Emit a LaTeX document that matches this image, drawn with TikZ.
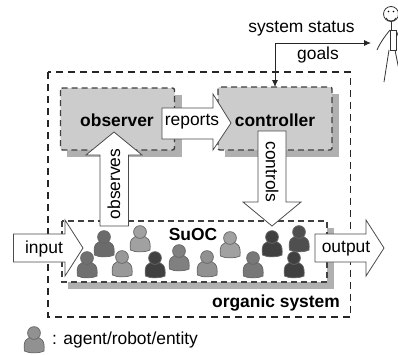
\documentclass[tikz,border=0pt]{standalone}
\usepackage{fontspec}
\setmainfont{Liberation Sans}
\usetikzlibrary{arrows.meta}
\definecolor{boxfill}{gray}{0.80}
\definecolor{shadowc}{gray}{0.69}
\definecolor{linec}{gray}{0.25}
\tikzset{
  x=1pt,y=-1pt,
  lab/.style={font=\fontsize{17.4}{20}\selectfont,inner sep=0pt,text=black},
  blab/.style={lab,font=\fontsize{17.4}{20}\selectfont\bfseries},
  dashbox/.style={draw=linec,line width=1.4pt,dash pattern=on 6pt off 4pt},
  outerbox/.style={draw=black!85,line width=1.5pt,dash pattern=on 7pt off 5pt},
  shadowbox/.style={fill=shadowc,draw=none},
  bigarrow/.style={draw=black!70,fill=white,line width=0.8pt,line join=miter},
  conn/.style={draw=black!85,line width=0.9pt,-{Latex[length=7pt,width=6pt]}},
  stick/.style={draw=black!80,line width=0.8pt},
  agentbody/.style={draw=black!60,line width=0.7pt},
}
\newcommand{\agent}[4]{% name, head x, head y, gray level
  \definecolor{agc}{gray}{#4}
  \begin{scope}[shift={(#2,#3)}]
    \path[agentbody,fill=agc] (-9.5,18) .. controls (-11,8) and (-8,4) .. (0,4)
      .. controls (8,4) and (11,8) .. (10,18) .. controls (5,20.5) and (-5,20.5) .. (-9.5,18) -- cycle;
    \path[agentbody,fill=agc] (0,0) circle (6.4);
    \coordinate (#1) at (0,0);
  \end{scope}}
\begin{document}
\begin{tikzpicture}
\useasboundingbox (0,0) rectangle (398,354);
\fill[white] (0,0) rectangle (398,354);
% outer
\path[outerbox] (48,72) rectangle (350.5,317);
% shadows
\path[shadowbox] (67,95) rectangle (182,157);
\path[shadowbox] (225,94) rectangle (339,157);
\path[shadowbox] (68,228) rectangle (334,289);
% boxes
\path[dashbox,fill=boxfill,rounded corners=2pt] (60.5,88) rectangle (174.5,150);
\path[dashbox,fill=boxfill,rounded corners=2pt] (218,87) rectangle (332,150);
\path[dashbox,fill=white] (62,221) rectangle (327,282);
\node[blab] (obs) at (117,120) {observer};
\node[blab] (ctl) at (275,120) {controller};
\node[blab] (suoc) at (193,235) {SuOC};
\node[blab] (org) at (276,303) {organic system};
% agents
\agent{a1}{104}{237}{0.42}
\agent{a2}{87}{258}{0.44}
\agent{a3}{140}{232}{0.63}
\agent{a4}{122}{257}{0.60}
\agent{a5}{155}{258}{0.25}
\agent{a6}{179}{251}{0.50}
\agent{a7}{230}{238}{0.63}
\agent{a8}{207}{257}{0.57}
\agent{a9}{253}{258}{0.47}
\agent{a10}{272}{237}{0.25}
\agent{a11}{299}{232}{0.31}
\agent{a12}{294}{258}{0.25}
\agent{leg}{34}{333}{0.57}
% big arrows
\path[bigarrow] (13.5,234) -- (65,234) -- (65,220) -- (83,248) -- (65,276) -- (65,262) -- (13.5,262) -- cycle;
\path[bigarrow] (315,234) -- (366,234) -- (366,220) -- (384,248) -- (366,276) -- (366,262) -- (315,262) -- cycle;
\path[bigarrow] (100,226) -- (100,155) -- (86,155) -- (114,132) -- (142,155) -- (128.5,155) -- (128.5,226) -- cycle;
\path[bigarrow] (162,108) -- (213,108) -- (213,94) -- (231,123) -- (213,150) -- (213,139) -- (162,139) -- cycle;
\path[bigarrow] (258,131) -- (286,131) -- (286,202) -- (301,202) -- (272,226) -- (243,202) -- (258,202) -- cycle;
\node[lab] (inp) at (44,249) {input};
\node[lab] (outp) at (346,249) {output};
\node[lab] (rep) at (192,122) {reports};
\node[lab,rotate=90] (obsv) at (114,184) {observes};
\node[lab,rotate=-90] (ctrls) at (272,172) {controls};
% status
\node[lab] (status) at (301.5,29) {system status};
\node[lab] (goals) at (318,55) {goals};
\coordinate (human) at (371,43);
\coordinate (corner) at (275,43);
\draw[conn] (corner) -- (human);
\draw[conn] (corner) -- (275,87);
% stick figure
\draw[stick] (391,14) circle (7.5);
\draw[stick] (386,18) .. controls (388,22) and (394,22) .. (396,18);
\fill (388.5,11.5) circle (0.8) (393.5,11.5) circle (0.8);
\draw[stick] (391,21.5) -- (391,30);
\draw[stick] (390,30) rectangle (396,50);
\draw[stick] (390,30) .. controls (385,36) and (380,43) .. (377,50);
\draw[stick] (396,30) -- (399,38);
\draw[stick] (389,50) -- (384,82);
\draw[stick] (395,50) -- (399,70);
\node[lab,anchor=west] (legt) at (52,340) {: agent/robot/entity};
\end{tikzpicture}
\end{document}
